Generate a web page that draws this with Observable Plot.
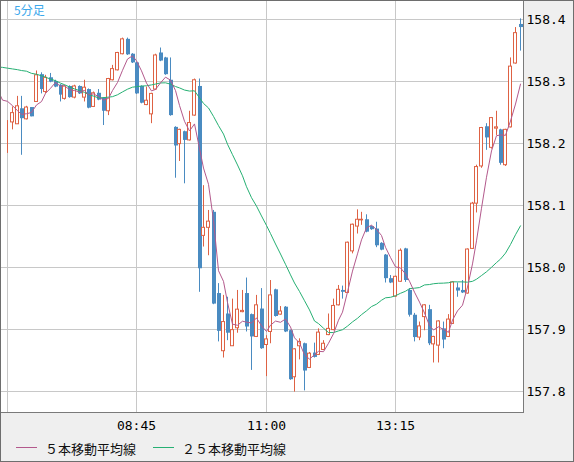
<!DOCTYPE html>
<html><head><meta charset="utf-8">
<script src="https://cdn.jsdelivr.net/npm/d3@7"></script>
<script src="https://cdn.jsdelivr.net/npm/@observablehq/plot@0.6"></script>
<style>
html,body{margin:0;padding:0;background:#fff;}
#chart svg{display:block;outline:1px solid #6e6e6e;outline-offset:-1px;}
</style></head><body><div id="chart"></div>
<script>
// 5-minute bars, first bar at 06:30
const openV = [158.233,158.234,158.231,158.256,158.239,158.258,158.267,158.311,158.283,158.306,
158.300,158.294,158.272,158.292,158.274,158.292,158.274,158.287,158.259,158.281,
158.273,158.252,158.302,158.318,158.344,158.368,158.344,158.330,158.292,158.262,
158.247,158.287,158.346,158.338,158.302,158.226,158.199,158.219,158.205,158.245,
158.292,158.051,158.064,158.089,157.958,157.865,157.925,157.873,157.902,157.928,
157.958,157.924,157.888,157.933,157.875,157.896,157.964,157.924,157.936,157.898,
157.823,157.873,157.877,157.838,157.862,157.859,157.867,157.891,157.899,157.939,
157.963,157.959,158.026,158.066,158.076,158.077,158.066,158.062,158.039,158.020,
157.982,157.953,157.977,158.030,157.963,157.923,157.887,157.920,157.932,157.876,
157.874,157.901,157.888,157.909,157.967,157.963,157.958,158.030,158.103,158.163,
158.227,158.193,158.224,158.222,158.165,158.226,158.329,158.392];
const highV = [158.237,158.259,158.276,158.276,158.260,158.258,158.317,158.314,158.310,158.313,
158.302,158.295,158.294,158.293,158.294,158.293,158.302,158.288,158.283,158.287,
158.274,158.305,158.326,158.347,158.370,158.370,158.345,158.331,158.293,158.291,
158.281,158.344,158.354,158.339,158.338,158.227,158.223,158.220,158.252,158.304,
158.304,158.132,158.092,158.092,157.974,157.955,157.952,157.949,157.963,157.963,
157.983,157.925,157.955,157.966,157.890,157.979,157.965,157.937,157.937,157.899,
157.869,157.885,157.878,157.863,157.878,157.901,157.882,157.925,157.949,157.971,
157.970,158.041,158.070,158.093,158.089,158.085,158.067,158.073,158.040,158.021,
157.987,157.986,158.030,158.031,157.966,157.926,157.912,157.940,157.939,157.889,
157.914,157.912,157.924,157.977,157.975,157.979,158.030,158.105,158.165,158.226,
158.232,158.242,158.252,158.223,158.223,158.338,158.387,158.401];
const lowV = [158.184,158.222,158.231,158.181,158.238,158.243,158.267,158.280,158.280,158.298,
158.290,158.267,158.270,158.273,158.272,158.279,158.267,158.256,158.258,158.269,
158.229,158.245,158.301,158.317,158.343,158.342,158.329,158.279,158.264,158.261,
158.232,158.286,158.332,158.310,158.244,158.144,158.171,158.135,158.204,158.244,
157.960,158.033,158.019,157.940,157.880,157.854,157.882,157.873,157.894,157.927,
157.896,157.834,157.887,157.868,157.824,157.877,157.920,157.923,157.895,157.818,
157.799,157.851,157.801,157.837,157.854,157.858,157.866,157.890,157.898,157.938,
157.949,157.958,158.022,158.054,158.068,158.056,158.060,158.032,158.027,157.975,
157.974,157.952,157.976,157.976,157.920,157.880,157.882,157.898,157.874,157.846,
157.846,157.869,157.887,157.908,157.952,157.958,157.957,158.029,158.088,158.160,
158.189,158.191,158.213,158.165,158.163,158.225,158.328,158.349];
const closeV = [158.233,158.249,158.260,158.240,158.258,158.243,158.310,158.287,158.306,158.299,
158.291,158.278,158.292,158.274,158.292,158.280,158.290,158.257,158.281,158.270,
158.252,158.304,158.320,158.346,158.368,158.343,158.330,158.280,158.265,158.269,
158.280,158.342,158.333,158.311,158.245,158.196,158.222,158.205,158.233,158.302,
157.998,158.064,158.074,157.941,157.897,157.912,157.894,157.899,157.932,157.930,
157.904,157.888,157.939,157.869,157.884,157.955,157.921,157.929,157.896,157.819,
157.868,157.880,157.833,157.861,157.855,157.895,157.877,157.901,157.938,157.964,
157.960,158.040,158.069,158.077,158.077,158.057,158.061,158.035,158.028,157.982,
157.975,157.985,158.027,157.979,157.923,157.887,157.905,157.939,157.877,157.888,
157.913,157.883,157.916,157.976,157.962,157.959,158.029,158.103,158.162,158.225,
158.209,158.241,158.226,158.168,158.222,158.324,158.378,158.387];
// closes of the 26 bars before the visible window (estimated from where the MA lines start)
const closesBefore = [158.270,158.265,158.280,158.290,158.275,158.285,
158.330,158.345,158.350,158.365,158.370,158.360,158.375,158.355,158.365,158.370,158.350,158.360,158.345,158.345,158.340,
158.243,158.284,158.300,158.270,158.253];

const yTicks = [157.8,157.9,158.0,158.1,158.2,158.3,158.4];
const gridIdx = [0,27,54,81];          // 06:30, 08:45, 11:00, 13:15
const labelIdx = [27,54,81];
const labelText = ["08:45","11:00","13:15"];
const legendNames = ["５本移動平均線","２５本移動平均線"];
const titleText = "5分足";

const RED = "#de6244", BLUE = "#4a8bc1", MAG = "#b3598c", GREEN = "#26b073";

const bars = closeV.map((c,i)=>({i, o:openV[i], h:highV[i], l:lowV[i], c}));
const ups = bars.filter(d=>d.c>=d.o), downs = bars.filter(d=>d.c<d.o);
const series = closesBefore.map((c,k)=>({i:k-closesBefore.length, c})).concat(bars.map(d=>({i:d.i, c:d.c})));

const chart = Plot.plot({
  width: 574, height: 462,
  marginLeft: 0, marginTop: 0, marginRight: 51, marginBottom: 50,
  style: {background:"#efefef", fontFamily:"'DejaVu Sans Mono', monospace", fontSize:"13px", color:"#000"},
  x: {domain: [-1.4614, 107.725], round: true},
  y: {domain: [157.76613, 158.43065]},
  marks: [
    Plot.frame({fill:"white", stroke:null}),
    Plot.gridX(gridIdx, {stroke:"#c8c8c8", strokeOpacity:1}),
    Plot.gridY(yTicks, {stroke:"#c8c8c8", strokeOpacity:1}),
    Plot.ruleX(bars, {x:"i", y1:"l", y2:"h", stroke:d=>d.c>=d.o?RED:BLUE}),
    Plot.ruleX(downs, {x:"i", y1:"o", y2:"c", stroke:BLUE, strokeWidth:4, dx:0.5}),
    Plot.rect(ups, {x1:"i", x2:"i", y1:"o", y2:"c", insetLeft:-1.5, insetRight:-1.5, fill:"white", stroke:RED}),
    Plot.lineY(series, Plot.windowY({k:25, anchor:"end", strict:true}, {x:"i", y:"c", stroke:GREEN, strokeWidth:1, clip:true})),
    Plot.lineY(series, Plot.windowY({k:5, anchor:"end", strict:true}, {x:"i", y:"c", stroke:MAG, strokeWidth:1, clip:true})),
    Plot.frame({stroke:"#7a7a7a"}),
    Plot.axisY(yTicks, {anchor:"right", tickSize:0, tickPadding:3, textAnchor:"start", fontSize:13, tickFormat:d=>d.toFixed(1), label:null}),
    Plot.axisX(labelIdx, {anchor:"bottom", tickSize:0, tickPadding:8, fontSize:13, tickFormat:d=>labelText[labelIdx.indexOf(d)], label:null})
  ]
});
document.getElementById("chart").appendChild(chart);

const svg = d3.select(chart);
svg.append("text").attr("x",14).attr("y",15).attr("fill","#3ba8ec").attr("text-anchor","start")
  .style("font-family","'Noto Sans CJK JP', sans-serif").style("font-size","12px").text(titleText);
const leg = [{x:16, color:MAG, name:legendNames[0]}, {x:153, color:GREEN, name:legendNames[1]}];
leg.forEach(l=>{
  svg.append("line").attr("x1",l.x).attr("x2",l.x+21).attr("y1",447.5).attr("y2",447.5)
    .attr("stroke",l.color).attr("stroke-width",1);
  svg.append("text").attr("x",l.x+29).attr("y",448).attr("dominant-baseline","central").attr("text-anchor","start")
    .attr("fill","#111").style("font-family","'Noto Sans CJK JP', sans-serif").style("font-size","13px").text(l.name);
});
</script></body></html>
